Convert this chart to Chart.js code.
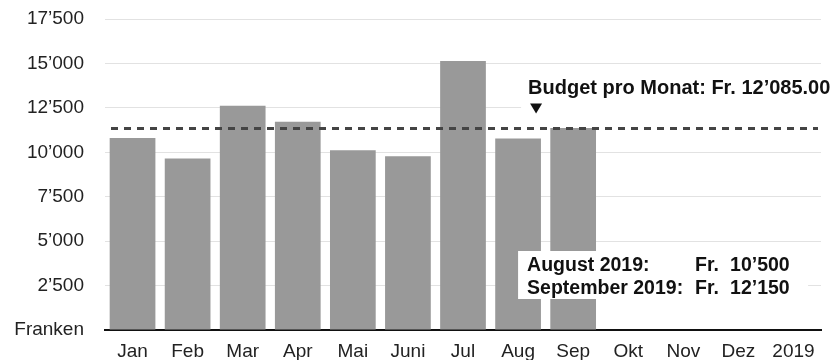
<!DOCTYPE html>
<html>
<head>
<meta charset="utf-8">
<script src="https://cdn.jsdelivr.net/npm/chart.js@4.4.0/dist/chart.umd.min.js"></script>
<style>
    html, body { margin: 0; padding: 0; background: #fff; }
    #wrap { width: 838px; height: 360px; }
</style>
</head>
<body>
<div id="wrap"><canvas id="budget_Chart" width="838" height="360"></canvas></div>
<script>
// Monatsdaten
const months = ['Jan', 'Feb', 'Mar', 'Apr', 'Mai', 'Juni', 'Jul', 'Aug', 'Sep', 'Okt', 'Nov', 'Dez', '2019'];
const spending = [10810, 9650, 12620, 11720, 10120, 9780, 15140, 10780, 11370, null, null, null, null];
const budgetLine = [11350];
const budgetText = ['Budget pro Monat: Fr. 12’085.00'];
const summaryNames = ['August 2019:', 'September 2019:'];
const summaryValues = ['10’500', '12’150'];

const fontFamily = '"Liberation Sans", Arial, Helvetica, sans-serif';

const formatFr = (v) => {
    if (v === 0) return 'Franken';
    return String(v).replace(/\B(?=(\d{3})+(?!\d))/g, '’');
};

// Budgetlinie + Beschriftungen
const budgetPlugin = {
    id: 'budgetPlugin',
    afterDatasetsDraw(chart) {
        const ctx = chart.ctx;
        const area = chart.chartArea;
        const x = chart.scales.x;
        const y = chart.scales.y;
        const yLine = Math.round(y.getPixelForValue(budgetLine[0])) + 0.5;
        const augX = x.getPixelForValue(7);

        ctx.save();
        // gestrichelte Linie
        ctx.strokeStyle = '#444';
        ctx.lineWidth = 3;
        ctx.setLineDash([7, 6]);
        ctx.beginPath();
        ctx.moveTo(area.left + 6, yLine);
        ctx.lineTo(area.right - 3, yLine);
        ctx.stroke();
        ctx.setLineDash([]);

        // Budget-Label
        ctx.fillStyle = '#fff';
        ctx.fillRect(augX + 3, yLine - 56, 838 - augX, 42);
        ctx.fillStyle = '#111';
        ctx.font = 'bold 20px ' + fontFamily;
        ctx.textBaseline = 'alphabetic';
        ctx.textAlign = 'left';
        ctx.fillText(budgetText[0], augX + 10, yLine - 35);

        // Dreieck
        const tx = augX + 18;
        ctx.beginPath();
        ctx.moveTo(tx - 6, yLine - 25);
        ctx.lineTo(tx + 6, yLine - 25);
        ctx.lineTo(tx, yLine - 15);
        ctx.closePath();
        ctx.fill();

        // Zusammenfassung
        const boxTop = area.bottom - 79;
        ctx.fillStyle = '#fff';
        ctx.fillRect(augX, boxTop, 290, 48);
        ctx.fillStyle = '#111';
        ctx.font = 'bold 19.5px ' + fontFamily;
        summaryNames.forEach((name, i) => {
            const by = boxTop + 20 + i * 23;
            ctx.fillText(name, augX + 9, by);
            ctx.fillText('Fr.', augX + 177, by);
            ctx.fillText(summaryValues[i], augX + 212, by);
        });
        ctx.restore();
    }
};

const ctxBudget = document.getElementById('budget_Chart').getContext('2d');
new Chart(ctxBudget, {
    type: 'bar',
    data: {
        labels: months,
        datasets: [{
            data: spending,
            backgroundColor: '#999999',
            barPercentage: 0.83,
            categoryPercentage: 1.0,
        }]
    },
    options: {
        responsive: false,
        animation: false,
        layout: {
            padding: { left: 10, right: 17, top: 19, bottom: 0 }
        },
        plugins: {
            legend: { display: false },
            tooltip: { enabled: false },
        },
        scales: {
            x: {
                grid: { display: false, drawTicks: false },
                border: { display: true, color: '#111', width: 2 },
                ticks: {
                    color: '#222',
                    padding: 10,
                    font: { family: fontFamily, size: 19 },
                },
                afterFit: (scale) => { scale.height = 30; scale.paddingLeft = 0; scale.paddingRight = 0; },
            },
            y: {
                min: 0,
                max: 17500,
                grid: { color: '#e2e2e2', lineWidth: 1, drawTicks: false },
                border: { display: false },
                ticks: {
                    stepSize: 2500,
                    color: '#222',
                    padding: 21,
                    font: { family: fontFamily, size: 19 },
                    callback: (value) => formatFr(value),
                },
                afterFit: (scale) => { scale.width = 95; scale.paddingTop = 0; scale.paddingBottom = 0; },
            }
        }
    },
    plugins: [budgetPlugin]
});
</script>
</body>
</html>
